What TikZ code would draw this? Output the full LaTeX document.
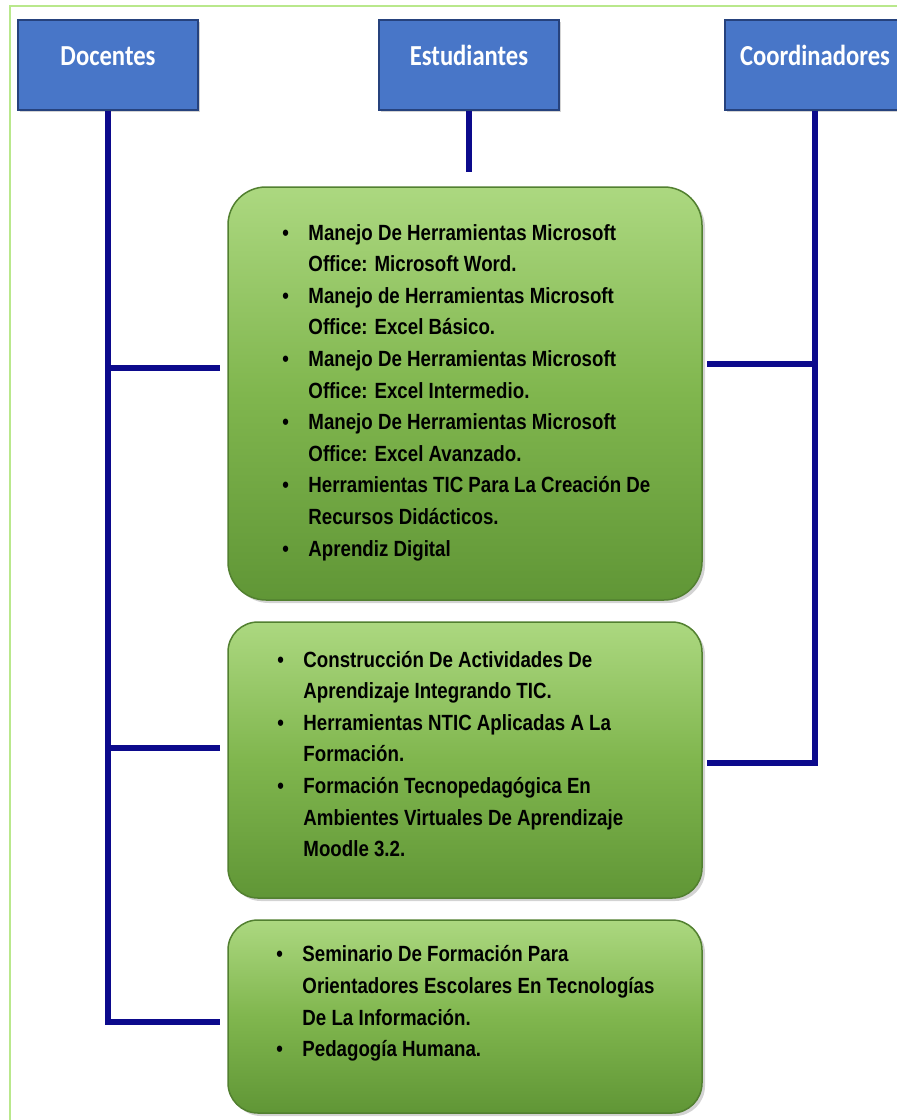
\documentclass[tikz,border=0pt]{standalone}
\usepackage{fontspec}
\setmainfont{Liberation Sans}[FakeStretch=0.85]
\newfontfamily\hdrfont{Carlito}[FakeStretch=0.85]
\usepackage{tikz}
\usetikzlibrary{positioning, calc, shadows}
\definecolor{lnkNavy}{RGB}{12,10,140}
\definecolor{hdrBlue}{RGB}{72,118,200}
\definecolor{hdrEdge}{RGB}{38,66,125}
\definecolor{grTop}{RGB}{172,216,128}
\definecolor{grMid}{RGB}{128,182,78}
\definecolor{grBot}{RGB}{96,150,54}
\definecolor{grEdge}{RGB}{82,128,48}
\definecolor{frameGreen}{RGB}{185,232,140}
\newcommand{\bulit}{\makebox[26pt][l]{\textbullet}}
\newcommand{\contl}{\hspace*{26pt}}

\begin{document}
\begin{tikzpicture}[x=1pt, y=-1pt,
    hdrbox/.style={rectangle, fill=hdrBlue, draw=hdrEdge, line width=1.5pt,
      minimum width=180pt, minimum height=90pt, text=white,
      font=\hdrfont\bfseries\fontsize{29}{32}\selectfont,
      text height=20pt, text depth=20pt,
      drop shadow={shadow xshift=2pt, shadow yshift=-2pt, opacity=0.35}},
    greenbox/.style={rectangle, rounded corners=30pt, draw=grEdge, line width=1.5pt,
      top color=grTop, bottom color=grBot, middle color=grMid,
      minimum width=474pt,
      drop shadow={shadow xshift=3pt, shadow yshift=-3pt, opacity=0.35}},
    itemtext/.style={anchor=west, align=left, inner sep=0pt,
      font=\bfseries\fontsize{22}{31.6}\selectfont},
    link/.style={draw=lnkNavy, line width=5.5pt}]
  \useasboundingbox (0,0) rectangle (897,1120);
  % outer frame
  \draw[frameGreen, line width=2pt] (10,1120) -- (10,6) -- (897,6);

  % top row
  \node[hdrbox] (doc) at (108,65) {Docentes};
  \node[hdrbox] (est) at (469,65) {Estudiantes};
  \node[hdrbox] (coo) at (815,65) {Coordinadores};

  % course boxes
  \node[greenbox, rounded corners=38pt, minimum height=413pt] (c1) at (465,393.5) {};
  \node[greenbox, minimum height=276pt] (c2) at (465,760) {};
  \node[greenbox, minimum height=193pt] (c3) at (465,1016.5) {};

  \node[itemtext] (t1) at ([xshift=55pt,yshift=1pt]c1.west) {%
    \bulit Manejo De Herramientas Microsoft\\
    \contl Office: Microsoft Word.\\
    \bulit Manejo de Herramientas Microsoft\\
    \contl Office: Excel Básico.\\
    \bulit Manejo De Herramientas Microsoft\\
    \contl Office: Excel Intermedio.\\
    \bulit Manejo De Herramientas Microsoft\\
    \contl Office: Excel Avanzado.\\
    \bulit Herramientas TIC Para La Creación De\\
    \contl Recursos Didácticos.\\
    \bulit Aprendiz Digital};
  \node[itemtext] (t2) at ([xshift=50pt,yshift=6pt]c2.west) {%
    \bulit Construcción De Actividades De\\
    \contl Aprendizaje Integrando TIC.\\
    \bulit Herramientas NTIC Aplicadas A La\\
    \contl Formación.\\
    \bulit Formación Tecnopedagógica En\\
    \contl Ambientes Virtuales De Aprendizaje\\
    \contl Moodle 3.2.};
  \node[itemtext] (t3) at ([xshift=49pt,yshift=13pt]c3.west) {%
    \bulit Seminario De Formación Para\\
    \contl Orientadores Escolares En Tecnologías\\
    \contl De La Información.\\
    \bulit Pedagogía Humana.};

  % junctions
  \coordinate (kl1) at ([yshift=25.5pt]c1.west);
  \coordinate (kl2) at ([yshift=12pt]c2.west);
  \coordinate (kl3) at ([yshift=-5.5pt]c3.west);
  \coordinate (kr1) at ([yshift=29.5pt]c1.east);
  \coordinate (kr2) at ([yshift=-3pt]c2.east);

  % connectors
  \draw[link, shorten >=7pt] (doc.south) |- (kl3);
  \draw[link, shorten >=7pt] (kl1 -| doc.south) -- (kl1);
  \draw[link, shorten >=7pt] (kl2 -| doc.south) -- (kl2);
  \draw[link, shorten >=14pt] (est.south) -- (est.south |- c1.north);
  \draw[link, shorten >=4pt] (coo.south) |- (kr2);
  \draw[link, shorten >=4pt] (kr1 -| coo.south) -- (kr1);
\end{tikzpicture}
\end{document}
